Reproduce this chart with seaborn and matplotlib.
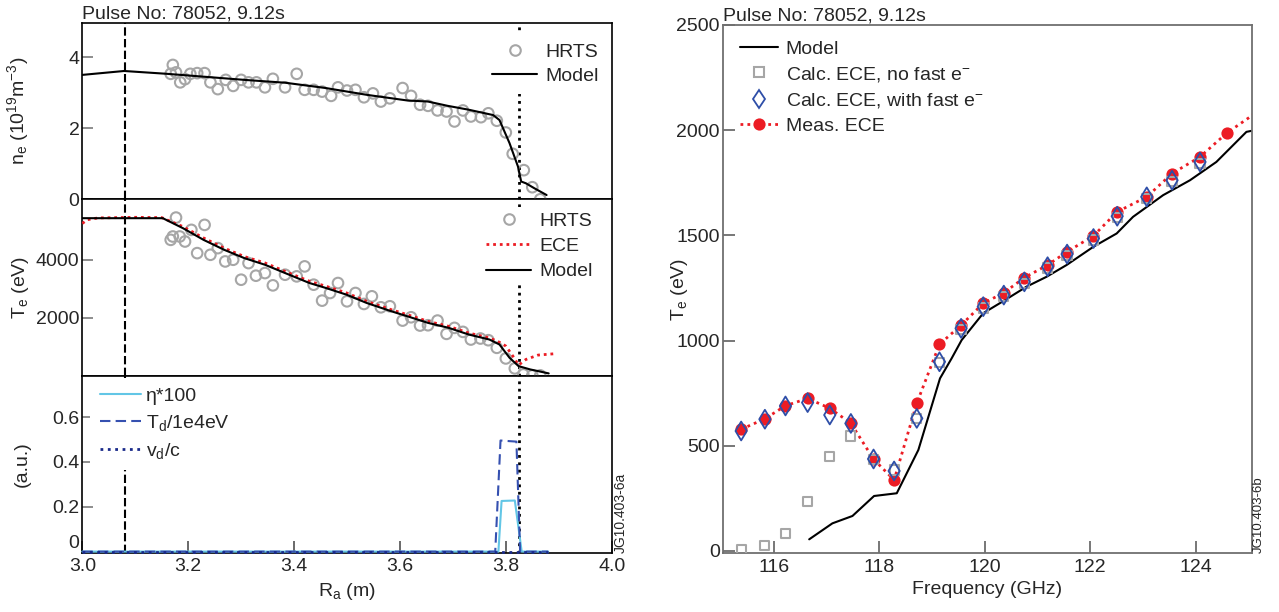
import matplotlib
matplotlib.use("Agg")
import matplotlib.pyplot as plt
import seaborn as sns
from matplotlib.lines import Line2D

# ---------------- data: left panels ----------------
R_ne_model = [3.00, 3.079, 3.16, 3.229, 3.306, 3.383, 3.46, 3.537, 3.614, 3.653, 3.69, 3.73,
              3.776, 3.788, 3.807, 3.823, 3.829, 3.838, 3.854, 3.877]
ne_model = [3.50, 3.61, 3.53, 3.45, 3.36, 3.28, 3.13, 2.94, 2.78, 2.75, 2.63, 2.52,
            2.37, 2.23, 1.58, 0.92, 0.50, 0.45, 0.31, 0.12]

R_hrts = [3.171, 3.167, 3.177, 3.185, 3.194, 3.204, 3.217, 3.231, 3.242, 3.256, 3.271, 3.285,
          3.300, 3.314, 3.329, 3.345, 3.360, 3.383, 3.405, 3.420, 3.437, 3.453, 3.470, 3.483,
          3.500, 3.516, 3.532, 3.549, 3.564, 3.581, 3.605, 3.621, 3.638, 3.653, 3.671, 3.688,
          3.703, 3.719, 3.734, 3.753, 3.767, 3.783, 3.800, 3.813, 3.834, 3.850, 3.865]
ne_hrts = [3.78, 3.53, 3.57, 3.29, 3.38, 3.53, 3.55, 3.55, 3.29, 3.10, 3.36, 3.19,
           3.36, 3.29, 3.29, 3.15, 3.39, 3.15, 3.53, 3.08, 3.08, 3.03, 2.91, 3.15,
           3.06, 3.08, 2.87, 2.98, 2.75, 2.84, 3.13, 2.91, 2.66, 2.63, 2.50, 2.47,
           2.19, 2.50, 2.33, 2.31, 2.42, 2.21, 1.88, 1.28, 0.82, 0.34, 0.00]

R_te_model = [3.00, 3.152, 3.19, 3.229, 3.268, 3.306, 3.345, 3.383, 3.429, 3.46, 3.499, 3.537,
              3.584, 3.614, 3.653, 3.692, 3.730, 3.769, 3.788, 3.807, 3.824, 3.846, 3.861, 3.881]
te_model = [5430, 5430, 5087, 4685, 4342, 4057, 3828, 3543, 3200, 3029, 2799, 2514,
            2226, 2055, 1828, 1657, 1427, 1255, 1084, 628, 340, 226, 168, 89]

R_te_ece = [3.00, 3.01, 3.03, 3.10, 3.15, 3.19, 3.229, 3.268, 3.306, 3.345, 3.383, 3.429,
            3.46, 3.499, 3.537, 3.584, 3.614, 3.653, 3.692, 3.730, 3.769, 3.788, 3.80, 3.815,
            3.824, 3.838, 3.861, 3.892]
te_ece = [5250, 5380, 5440, 5460, 5450, 5140, 4750, 4400, 4110, 3890, 3600, 3260,
          3090, 2860, 2570, 2280, 2110, 1880, 1710, 1480, 1310, 1160, 1030, 640,
          375, 570, 720, 766]

R_te_hrts = [3.177, 3.167, 3.171, 3.184, 3.194, 3.206, 3.217, 3.231, 3.242, 3.256, 3.270, 3.285,
             3.300, 3.314, 3.328, 3.345, 3.360, 3.383, 3.405, 3.420, 3.437, 3.453, 3.468, 3.483,
             3.500, 3.516, 3.532, 3.547, 3.564, 3.581, 3.605, 3.621, 3.638, 3.653, 3.671, 3.688,
             3.703, 3.719, 3.734, 3.752, 3.767, 3.783, 3.800, 3.817, 3.833, 3.850, 3.865]
te_hrts = [5451, 4685, 4800, 4800, 4628, 5028, 4228, 5200, 4171, 4400, 3942, 4000,
           3313, 3885, 3451, 3542, 3119, 3485, 3428, 3771, 3142, 2593, 2856, 3199,
           2570, 2856, 2479, 2742, 2364, 2399, 1907, 2021, 1736, 1747, 1907, 1450,
           1656, 1518, 1255, 1290, 1232, 970, 604, 261, 55, 21, 21]

R_eta = [3.00, 3.786, 3.792, 3.817, 3.830, 3.88]
eta100 = [0.0, 0.0, 0.226, 0.228, 0.0, 0.0]
R_td = [3.00, 3.780, 3.790, 3.820, 3.827, 3.88]
td = [0.0, 0.0, 0.496, 0.491, 0.0, 0.0]
R_vd = [3.00, 3.88]
vd = [0.0, 0.0]

R_dashed = 3.08
R_sep = 3.825

# ---------------- data: right panel ----------------
f_model = [116.67, 117.11, 117.49, 117.90, 118.33, 118.74, 119.15, 119.37, 119.56, 119.97,
           120.38, 120.79, 121.17, 121.55, 122.06, 122.50, 122.81, 123.38, 123.89, 124.39,
           124.96, 125.06]
T_model = [55, 131, 166, 261, 274, 480, 820, 915, 1002, 1130,
           1192, 1256, 1303, 1359, 1446, 1509, 1588, 1691, 1762, 1849,
           1992, 1997]

f_meas = [115.38, 115.83, 116.22, 116.64, 117.06, 117.46, 117.89, 118.28, 118.71, 119.14,
          119.55, 119.97, 120.36, 120.75, 121.19, 121.56, 122.06, 122.51, 123.07, 123.55,
          124.08, 124.59, 125.30]
T_meas = [578, 628, 690, 725, 678, 607, 436, 337, 702, 982,
          1073, 1177, 1227, 1299, 1359, 1422, 1498, 1612, 1683, 1794,
          1873, 1987, 2110]

f_calc = [115.38, 115.83, 116.22, 116.64, 117.06, 117.46, 117.89, 118.28, 118.71, 119.14,
          119.55, 119.97, 120.36, 120.75, 121.19, 121.56, 122.06, 122.51, 123.07, 123.55,
          124.08]
T_fast = [570, 626, 689, 705, 646, 606, 437, 380, 630, 899,
          1058, 1161, 1216, 1279, 1351, 1411, 1485, 1591, 1683, 1762,
          1849]
T_nofast = [5, 25, 84, 234, 448, 546, 436, 385, 630, 895,
            1052, 1155, 1210, 1272, 1345, 1405, 1478, 1585, 1676, 1755,
            1842]

title_txt = "Pulse No: 78052, 9.12s"

# ---------------- style ----------------
sns.set_theme(style="white")
plt.rcParams['font.family'] = ['Liberation Sans', 'DejaVu Sans']
plt.rcParams['mathtext.default'] = 'regular'
plt.rcParams['font.size'] = 14
plt.rcParams['axes.edgecolor'] = 'black'
plt.rcParams['axes.linewidth'] = 1.2

FS = 14
GREY = '#a6a6a6'
RED = '#ec1c24'
BLUE = '#2e4ea8'
CYAN = '#62c6e6'
TDC = '#3550b0'
VDC = '#1a2a8a'
TICKC = '#7a7a7a'

fig = plt.figure(figsize=(12.79, 6.12), dpi=100)
W, H = 1279.0, 612.0


def add_ax(x0, ytop, x1, ybot):
    return fig.add_axes([x0 / W, 1 - ybot / H, (x1 - x0) / W, (ybot - ytop) / H])


ax_ne = add_ax(82.3, 23, 611.7, 199.3)
ax_te = add_ax(82.3, 199.3, 611.7, 376)
ax_d = add_ax(82.3, 376, 611.7, 552.7)
ax_r = add_ax(722.7, 25, 1251.7, 553)

hrts_kw = dict(marker='o', s=58, color='none', edgecolor=GREY, linewidth=1.5, clip_on=False,
               zorder=3)
leg_kw = dict(borderaxespad=0, handletextpad=0.45, fontsize=FS, frameon=True,
              facecolor='white', edgecolor='none', framealpha=1, fancybox=False)

# ---- top: density ----
sns.scatterplot(x=R_hrts, y=ne_hrts, ax=ax_ne, **hrts_kw)
sns.lineplot(x=R_ne_model, y=ne_model, ax=ax_ne, color='black', lw=1.5, sort=False,
             estimator=None, zorder=4)
ax_ne.set_xlim(3.0, 4.0)
ax_ne.set_ylim(0, 4.96)
ax_ne.set_yticks([0, 2, 4])
ax_ne.set_yticklabels(['0', '2', '4'])
ax_ne.set_ylabel('n$_e$ (10$^{19}$m$^{-3}$)', fontsize=FS)
ax_ne.set_title(title_txt, loc='left', fontsize=FS, pad=3)
ax_ne.legend(handles=[Line2D([], [], ls='none', marker='o', ms=7.6, mfc='none', mec=GREY, mew=1.5),
                      Line2D([], [], color='black', lw=1.5)],
             labels=['HRTS', 'Model'], loc='upper right', bbox_to_anchor=(0.993, 0.935),
             borderpad=0.45, handlelength=2.3, labelspacing=0.35, **leg_kw)

# ---- middle: temperature ----
sns.scatterplot(x=R_te_hrts, y=te_hrts, ax=ax_te, **hrts_kw)
sns.lineplot(x=R_te_ece, y=te_ece, ax=ax_te, color=RED, lw=2, ls=(0, (1, 1.4)), sort=False,
             estimator=None, zorder=4)
sns.lineplot(x=R_te_model, y=te_model, ax=ax_te, color='black', lw=1.5, sort=False,
             estimator=None, zorder=5)
ax_te.set_xlim(3.0, 4.0)
ax_te.set_ylim(0, 6080)
ax_te.set_yticks([2000, 4000])
ax_te.set_yticklabels(['2000', '4000'])
ax_te.set_ylabel('T$_e$ (eV)', fontsize=FS)
ax_te.legend(handles=[Line2D([], [], ls='none', marker='o', ms=7.6, mfc='none', mec=GREY, mew=1.5),
                      Line2D([], [], color=RED, lw=2, ls=(0, (1, 1.4))),
                      Line2D([], [], color='black', lw=1.5)],
             labels=['HRTS', 'ECE', 'Model'], loc='upper right', bbox_to_anchor=(0.974, 0.956),
             borderpad=0.25, handlelength=2.3, labelspacing=0.4, **leg_kw)

# ---- bottom: runaway parameters ----
sns.lineplot(x=R_eta, y=eta100, ax=ax_d, color=CYAN, lw=1.5, sort=False, estimator=None,
             clip_on=False, zorder=3)
sns.lineplot(x=R_td, y=td, ax=ax_d, color=TDC, lw=1.5, ls=(0, (5, 2.5)), sort=False,
             estimator=None, clip_on=False, zorder=3)
sns.lineplot(x=R_vd, y=vd, ax=ax_d, color=VDC, lw=2, ls=':', sort=False, estimator=None,
             clip_on=False, zorder=3)
ax_d.set_xlim(3.0, 4.0)
ax_d.set_ylim(-0.005, 0.784)
ax_d.set_yticks([0, 0.2, 0.4, 0.6])
ax_d.set_yticklabels(['0', '0.2', '0.4', '0.6'])
ax_d.set_xticks([3.0, 3.2, 3.4, 3.6, 3.8, 4.0])
ax_d.set_xticklabels(['3.0', '3.2', '3.4', '3.6', '3.8', '4.0'])
ax_d.set_ylabel('(a.u.)', fontsize=FS)
ax_d.set_xlabel('R$_a$ (m)', fontsize=FS, labelpad=4)
ax_d.legend(handles=[Line2D([], [], color=CYAN, lw=1.5),
                     Line2D([], [], color=TDC, lw=1.5, ls=(0, (5, 2.5))),
                     Line2D([], [], color=VDC, lw=2, ls=':')],
            labels=['η*100', 'T$_d$/1e4eV', 'v$_d$/c'], loc='upper left',
            bbox_to_anchor=(0.0145, 0.990), borderpad=0.5, handlelength=2.1,
            labelspacing=0.4, **{**leg_kw, 'handletextpad': 0.3})

for ax in (ax_ne, ax_te, ax_d):
    ax.axvline(R_dashed, color='black', lw=1.5, ls=(0, (4, 1.6)), zorder=2)
    ax.axvline(R_sep, color='black', lw=2, ls=':', zorder=2)
    ax.tick_params(axis='y', direction='in', length=8, width=1.2, color=TICKC, pad=2,
                   labelsize=FS, left=True)
    ax.yaxis.set_label_coords(-0.097, 0.5)
    for s in ax.spines.values():
        s.set_color('black')
        s.set_linewidth(1.2)
for ax in (ax_ne, ax_te):
    ax.tick_params(axis='x', bottom=False, labelbottom=False)
    ax.set_xlabel('')
ax_d.tick_params(axis='x', direction='in', length=8.5, width=1.2, color='#505050', pad=4,
                 labelsize=FS, bottom=True)
# lift the bottom "0" label so it sits above the x tick labels, as in the reference
ax_d.get_yticklabels()[0].set_verticalalignment('bottom')

# ---------------- right panel ----------------
sns.lineplot(x=f_model, y=T_model, ax=ax_r, color='black', lw=1.5, sort=False,
             estimator=None, zorder=2)
sns.lineplot(x=f_meas, y=T_meas, ax=ax_r, color=RED, lw=2, ls=(0, (1, 1.5)), marker='o',
             markersize=8.8, mec=RED, mew=0, sort=False, estimator=None, zorder=3)
sns.scatterplot(x=f_calc, y=T_nofast, ax=ax_r, marker='s', s=44, color='none',
                edgecolor=GREY, linewidth=1.5, zorder=4)
sns.scatterplot(x=f_calc, y=T_fast, ax=ax_r, marker='d', s=92, color='none',
                edgecolor=BLUE, linewidth=1.3, zorder=5)
ax_r.set_xlim(115.03, 125.06)
ax_r.set_ylim(-10, 2500)
ax_r.set_xticks([116, 118, 120, 122, 124])
ax_r.set_xticklabels(['116', '118', '120', '122', '124'])
ax_r.set_yticks([0, 500, 1000, 1500, 2000, 2500])
ax_r.set_yticklabels(['0', '500', '1000', '1500', '2000', '2500'])
ax_r.tick_params(axis='both', direction='in', length=8.5, width=1.2, color='#606060',
                 labelsize=FS, left=True, bottom=True)
ax_r.tick_params(axis='y', pad=2)
ax_r.tick_params(axis='x', pad=4)
for s in ax_r.spines.values():
    s.set_color('#707070')
    s.set_linewidth(1.3)
ax_r.set_xlabel('Frequency (GHz)', fontsize=FS, labelpad=4)
ax_r.set_ylabel('T$_e$ (eV)', fontsize=FS)
ax_r.yaxis.set_label_coords(-0.062, 0.5)
ax_r.set_title(title_txt, loc='left', fontsize=FS, pad=3)
ax_r.legend(handles=[Line2D([], [], color='black', lw=1.5),
                     Line2D([], [], ls='none', marker='s', ms=6.6, mfc='none', mec=GREY, mew=1.5),
                     Line2D([], [], ls='none', marker='d', ms=9.6, mfc='none', mec=BLUE, mew=1.3),
                     Line2D([], [], color=RED, lw=2, ls=(0, (1, 1.5)), marker='o', ms=8.8,
                            mec=RED, mew=0)],
            labels=['Model', 'Calc. ECE, no fast e$^{-}$', 'Calc. ECE, with fast e$^{-}$',
                    'Meas. ECE'],
            loc='upper left', bbox_to_anchor=(0.0253, 0.979), borderaxespad=0,
            borderpad=0.2, handlelength=1.95, handletextpad=0.4, labelspacing=0.37,
            fontsize=FS, frameon=False)

# figure codes
fig.text(614 / W, 1 - 553 / H, 'JG10.403-6a', rotation=90, fontsize=10, ha='left', va='bottom',
         family=['Liberation Sans Narrow', 'Liberation Sans', 'DejaVu Sans'])
fig.text(1253 / W, 1 - 553 / H, 'JG10.403-6b', rotation=90, fontsize=9.5, ha='left', va='bottom',
         family=['Liberation Sans Narrow', 'Liberation Sans', 'DejaVu Sans'])

fig.savefig('out.png', dpi=100)
